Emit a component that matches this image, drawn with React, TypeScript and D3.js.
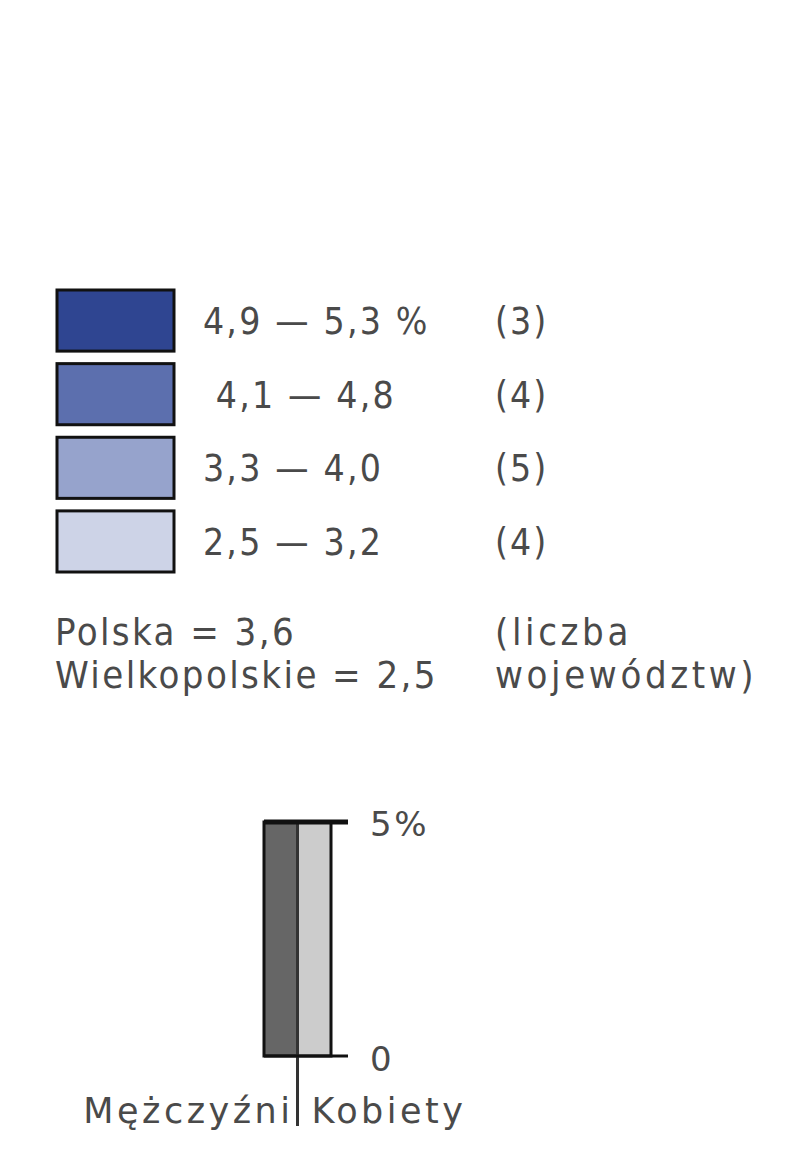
import React, { useRef, useEffect } from 'react';
import * as d3 from 'd3';

const classLabels = ['4,9 — 5,3 %', ' 4,1 — 4,8', '3,3 — 4,0', '2,5 — 3,2'];
const classCounts = ['(3)', '(4)', '(5)', '(4)'];
const classColors = ['#2f4591', '#5c6fae', '#96a3cc', '#cdd3e7'];
const summaryLines = ['Polska = 3,6', 'Wielkopolskie = 2,5'];
const countNote = ['(liczba', 'województw)'];
const sexes = ['Mężczyźni', 'Kobiety'];
const sexValues = [5, 5];
const sexColors = ['#666666', '#cccccc'];
const axisTicks = [0, 5];

const App = () => {
  const ref = useRef<HTMLDivElement>(null);

  useEffect(() => {
    const width = 794;
    const height = 1170;
    const font = '"DejaVu Sans Condensed", "DejaVu Sans", sans-serif';
    const wideFont = '"DejaVu Sans", sans-serif';
    const textColor = '#4a4a4a';

    d3.select(ref.current).selectAll('svg').remove();

    const svg = d3.select(ref.current)
      .append('svg')
      .attr('width', width)
      .attr('height', height)
      .style('display', 'block');

    svg.append('rect').attr('width', width).attr('height', height).attr('fill', '#fff');

    // legend of classes
    const y = d3.scaleBand().domain(classLabels).range([290, 572]).paddingInner(0.17);

    const rows = svg.selectAll('g.row')
      .data(classLabels)
      .enter().append('g')
      .attr('class', 'row');

    rows.append('rect')
      .attr('x', 57)
      .attr('y', (d) => y(d)!)
      .attr('width', 117)
      .attr('height', y.bandwidth())
      .attr('fill', (d, i) => classColors[i])
      .attr('stroke', '#111')
      .attr('stroke-width', 3);

    rows.append('text')
      .attr('x', 203)
      .attr('y', (d) => y(d)! + y.bandwidth() / 2)
      .attr('dy', '0.36em')
      .style('white-space', 'pre')
      .text((d) => d)
      .attr('font-family', font)
      .attr('font-size', 37)
      .attr('letter-spacing', 2.2)
      .attr('fill', textColor);

    rows.append('text')
      .attr('x', 495)
      .attr('y', (d) => y(d)! + y.bandwidth() / 2)
      .attr('dy', '0.36em')
      .text((d, i) => classCounts[i])
      .attr('font-family', font)
      .attr('font-size', 37)
      .attr('letter-spacing', 2)
      .attr('fill', textColor);

    svg.selectAll('text.summary')
      .data(summaryLines)
      .enter().append('text')
      .attr('class', 'summary')
      .attr('x', 55)
      .attr('y', (d, i) => 645 + i * 43)
      .text((d) => d)
      .attr('font-family', font)
      .attr('font-size', 38)
      .attr('letter-spacing', 2.4)
      .attr('fill', textColor);

    svg.selectAll('text.note')
      .data(countNote)
      .enter().append('text')
      .attr('class', 'note')
      .attr('x', 495)
      .attr('y', (d, i) => 645 + i * 43)
      .text((d) => d)
      .attr('font-family', font)
      .attr('font-size', 38)
      .attr('letter-spacing', 3.6)
      .attr('fill', textColor);

    // men / women scale bar
    const x = d3.scaleBand().domain(sexes).range([264, 331]).padding(0);
    const v = d3.scaleLinear().domain([0, 5]).range([1056, 822]);
    const midX = x('Kobiety')!;

    svg.selectAll('rect.bar')
      .data(sexes)
      .enter().append('rect')
      .attr('class', 'bar')
      .attr('x', (d) => x(d)!)
      .attr('y', (d, i) => v(sexValues[i]))
      .attr('width', x.bandwidth())
      .attr('height', (d, i) => v(0) - v(sexValues[i]))
      .attr('fill', (d, i) => sexColors[i])
      .attr('stroke', '#111')
      .attr('stroke-width', 3);

    // divider between the two bars, running down between labels
    svg.append('line')
      .attr('x1', midX).attr('x2', midX)
      .attr('y1', v(5)).attr('y2', 1126)
      .attr('stroke', '#333')
      .attr('stroke-width', 3);

    // ticks
    svg.selectAll('line.tick')
      .data(axisTicks)
      .enter().append('line')
      .attr('class', 'tick')
      .attr('x1', 264)
      .attr('x2', 348)
      .attr('y1', (d) => v(d))
      .attr('y2', (d) => v(d))
      .attr('stroke', '#111')
      .attr('stroke-width', (d) => (d === 5 ? 5 : 3));

    svg.selectAll('text.tickLabel')
      .data(axisTicks)
      .enter().append('text')
      .attr('class', 'tickLabel')
      .attr('x', 370)
      .attr('y', (d) => v(d))
      .attr('dy', (d) => (d === 5 ? '0.4em' : '0.45em'))
      .text((d) => (d === 5 ? '5%' : '0'))
      .attr('font-family', wideFont)
      .attr('font-size', 34)
      .attr('letter-spacing', 2.5)
      .attr('fill', textColor);

    svg.selectAll('text.sex')
      .data(sexes)
      .enter().append('text')
      .attr('class', 'sex')
      .attr('x', (d, i) => (i === 0 ? midX - 4 : midX + 14))
      .attr('y', 1123)
      .attr('text-anchor', (d, i) => (i === 0 ? 'end' : 'start'))
      .text((d) => d)
      .attr('font-family', wideFont)
      .attr('font-size', 35)
      .attr('letter-spacing', 3.5)
      .attr('fill', textColor);
  }, []);

  return <div ref={ref} style={{ margin: -8 }} />;
};

export default App;
